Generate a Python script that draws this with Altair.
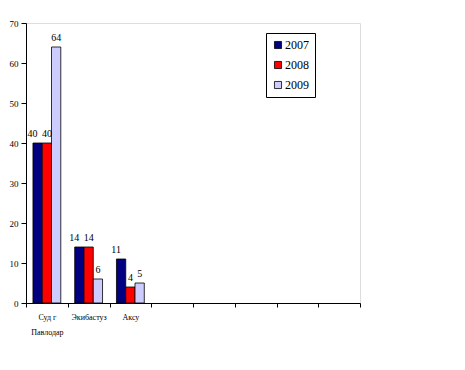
import altair as alt
import pandas as pd

categories = ["Суд г\nПавлодар", "Экибастуз", "Аксу"]
blank_slots = [" ", "  ", "   ", "    ", "     "]
years = ["2007", "2008", "2009"]
v2007 = [40, 14, 11]
v2008 = [40, 14, 4]
v2009 = [64, 6, 5]
colors = ["#000080", "#FF0000", "#CCCCFF"]

rows = []
for yr, vals in zip(years, [v2007, v2008, v2009]):
    for c, v in zip(categories, vals):
        rows.append({"cat": c, "year": yr, "value": v})
df = pd.DataFrame(rows)

font = "Liberation Serif"
domain_x = categories + blank_slots

x_enc = alt.X("cat:N", sort=domain_x,
              scale=alt.Scale(domain=domain_x, paddingInner=0, paddingOuter=0),
              axis=alt.Axis(title=None, labelAngle=0, tickBand="extent",
                            labelExpr="split(datum.label, '\\n')",
                            labelFont=font, labelFontSize=8, labelColor="black",
                            labelLineHeight=15, labelPadding=6,
                            domainColor="black", tickColor="black", tickSize=4,
                            labelBaseline="top"))
xo_enc = alt.XOffset("year:N", scale=alt.Scale(paddingInner=0, paddingOuter=0.75))
y_enc = alt.Y("value:Q",
              scale=alt.Scale(domain=[0, 70], nice=False),
              axis=alt.Axis(title=None, values=[0, 10, 20, 30, 40, 50, 60, 70],
                            grid=False, labelFont=font, labelFontSize=9,
                            labelColor="black", domainColor="black",
                            tickColor="black", tickSize=5, labelPadding=3))

bars = alt.Chart(df).mark_bar(stroke="black", strokeWidth=0.8).encode(
    x=x_enc, xOffset=xo_enc, y=y_enc,
    color=alt.Color("year:N", scale=alt.Scale(domain=years, range=colors),
                    legend=alt.Legend(title=None, orient="none", legendX=240, legendY=10,
                                      symbolType="square", symbolSize=50,
                                      symbolStrokeColor="black", symbolStrokeWidth=0.8,
                                      labelFont=font, labelFontSize=12, labelColor="black",
                                      rowPadding=8, padding=6, strokeColor="black",
                                      fillColor="white", labelOffset=1))
)

text_props = dict(dy=-9, font=font, fontSize=10, color="black")
labels_first = alt.Chart(df).transform_filter(alt.datum.year == "2007").mark_text(
    dx=-5, **text_props).encode(x=x_enc, xOffset=xo_enc, y=y_enc, text="value:Q")
labels_rest = alt.Chart(df).transform_filter(alt.datum.year != "2007").mark_text(
    **text_props).encode(x=x_enc, xOffset=xo_enc, y=y_enc, text="value:Q")

chart = (bars + labels_first + labels_rest).properties(
    width=334, height=280,
    autosize=alt.AutoSizeParams(type="none"),
    padding={"left": 18, "top": 15, "right": 5, "bottom": 50},
).configure_view(stroke=None).configure(background="white")

chart.save("out.html", embed_options={"renderer": "svg", "actions": False})
